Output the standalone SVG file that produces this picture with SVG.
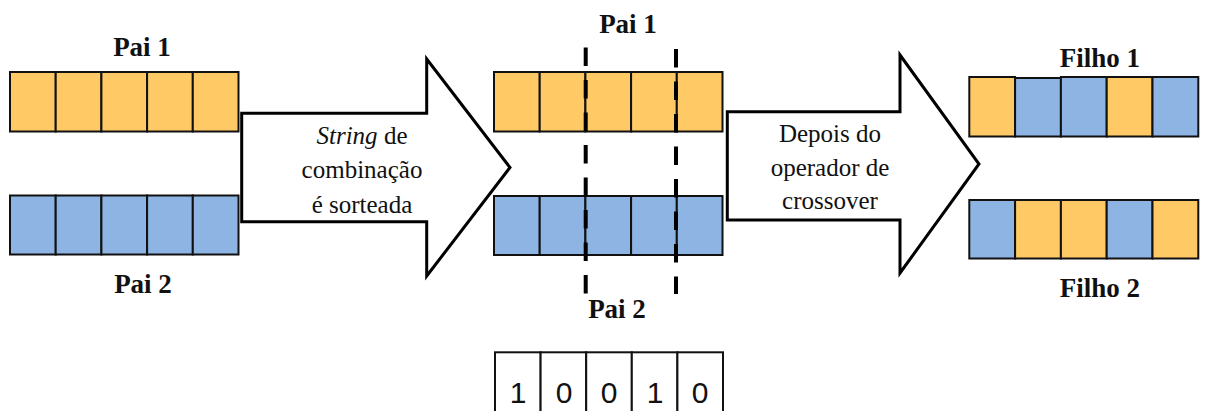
<svg xmlns="http://www.w3.org/2000/svg" width="1205" height="411" viewBox="0 0 1205 411">
<style>
.o{fill:#FFC966;stroke:#111;stroke-width:2}
.b{fill:#8EB4E3;stroke:#111;stroke-width:2}
.w{fill:#fff;stroke:#111;stroke-width:2}
.arrow{fill:#fff;stroke:#000;stroke-width:3;stroke-linejoin:miter}
.cut{stroke:#000;stroke-width:4;stroke-dasharray:18.5 14}
.lbl{font-family:"Liberation Serif","Times New Roman","DejaVu Serif",serif;font-weight:bold;font-size:27px;fill:#111;text-anchor:middle}
.t{font-family:"Liberation Serif","Times New Roman","DejaVu Serif",serif;font-size:25px;fill:#111;text-anchor:middle}
.d{font-family:"Liberation Sans",Arial,sans-serif;font-size:30px;fill:#111;text-anchor:middle}
</style>
<rect width="1205" height="411" fill="#fff"/>

<g id="pai1-left">
<rect class="o" x="10" y="72" width="45.7" height="59.5"/>
<rect class="o" x="55.7" y="72" width="45.7" height="59.5"/>
<rect class="o" x="101.4" y="72" width="45.7" height="59.5"/>
<rect class="o" x="147.1" y="72" width="45.7" height="59.5"/>
<rect class="o" x="192.8" y="72" width="45.7" height="59.5"/>
<text class="lbl" x="142" y="56">Pai 1</text>
</g>
<g id="pai2-left">
<rect class="b" x="10" y="195.5" width="45.7" height="59"/>
<rect class="b" x="55.7" y="195.5" width="45.7" height="59"/>
<rect class="b" x="101.4" y="195.5" width="45.7" height="59"/>
<rect class="b" x="147.1" y="195.5" width="45.7" height="59"/>
<rect class="b" x="192.8" y="195.5" width="45.7" height="59"/>
<text class="lbl" x="143" y="293">Pai 2</text>
</g>

<g id="connectors">
<g id="arrow1">
<polygon class="arrow" points="241.7,113.3 426.7,113.3 426.7,59 510,167.5 426.7,276 426.7,221.7 241.7,221.7"/>
<text class="t" x="362" y="144"><tspan font-style="italic">String</tspan> de</text>
<text class="t" x="362" y="178">combinação</text>
<text class="t" x="362" y="213">é sorteada</text>
</g>
<g id="arrow2">
<polygon class="arrow" points="727.3,111.7 900,111.7 900,55 979,164 900,273 900,220 727.3,220"/>
<text class="t" x="830" y="142">Depois do</text>
<text class="t" x="830" y="176">operador de</text>
<text class="t" x="830" y="209">crossover</text>
</g>
</g>

<g id="pai1-mid">
<rect class="o" x="494" y="72" width="45.7" height="59.5"/>
<rect class="o" x="539.7" y="72" width="45.7" height="59.5"/>
<rect class="o" x="585.4" y="72" width="45.7" height="59.5"/>
<rect class="o" x="631.1" y="72" width="45.7" height="59.5"/>
<rect class="o" x="676.8" y="72" width="45.7" height="59.5"/>
<text class="lbl" x="628" y="33">Pai 1</text>
</g>
<g id="pai2-mid">
<rect class="b" x="494" y="196" width="45.7" height="59"/>
<rect class="b" x="539.7" y="196" width="45.7" height="59"/>
<rect class="b" x="585.4" y="196" width="45.7" height="59"/>
<rect class="b" x="631.1" y="196" width="45.7" height="59"/>
<rect class="b" x="676.8" y="196" width="45.7" height="59"/>
<text class="lbl" x="617" y="318">Pai 2</text>
</g>

<g id="cut-points">
<line class="cut" x1="585.7" y1="47.5" x2="585.7" y2="294"/>
<line class="cut" x1="676" y1="49" x2="676" y2="294"/>
</g>

<g id="string">
<rect class="w" x="495" y="352.3" width="45.6" height="70"/>
<rect class="w" x="540.6" y="352.3" width="45.6" height="70"/>
<rect class="w" x="586.2" y="352.3" width="45.6" height="70"/>
<rect class="w" x="631.8" y="352.3" width="45.6" height="70"/>
<rect class="w" x="677.4" y="352.3" width="45.6" height="70"/>
<text class="d" x="518" y="403">1</text>
<text class="d" x="564" y="403">0</text>
<text class="d" x="609" y="403">0</text>
<text class="d" x="655" y="403">1</text>
<text class="d" x="700" y="403">0</text>
</g>

<g id="filho1">
<rect class="o" x="969.3" y="77" width="45.8" height="59.5"/>
<rect class="b" x="1015.1" y="78" width="45.8" height="58.5"/>
<rect class="b" x="1060.9" y="77" width="45.8" height="59.5"/>
<rect class="o" x="1106.7" y="77" width="45.8" height="59.5"/>
<rect class="b" x="1152.5" y="77" width="45.8" height="59.5"/>
<text class="lbl" x="1100" y="67">Filho 1</text>
</g>
<g id="filho2">
<rect class="b" x="969.3" y="200" width="45.8" height="58.5"/>
<rect class="o" x="1015.1" y="200" width="45.8" height="58.5"/>
<rect class="o" x="1060.9" y="200" width="45.8" height="58.5"/>
<rect class="b" x="1106.7" y="200" width="45.8" height="58.5"/>
<rect class="o" x="1152.5" y="200" width="45.8" height="58.5"/>
<text class="lbl" x="1100" y="297">Filho 2</text>
</g>
</svg>
